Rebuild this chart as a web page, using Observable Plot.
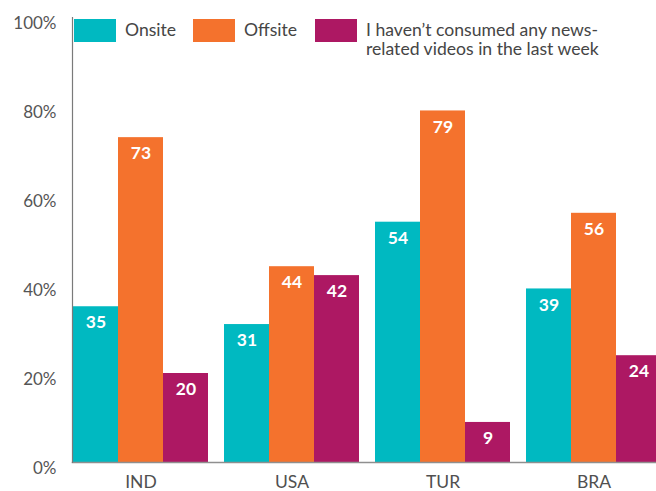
<!DOCTYPE html>
<html>
<head>
<meta charset="utf-8">
<script src="https://cdn.jsdelivr.net/npm/d3@7"></script>
<script src="https://cdn.jsdelivr.net/npm/@observablehq/plot@0.6"></script>
<style>
  html, body { margin: 0; padding: 0; background: #fff; overflow: hidden; }
  #wrap { position: relative; width: 656px; height: 491px; font-family: Lato, "Open Sans", sans-serif; }
  .leg { position: absolute; top: 19px; display: flex; align-items: flex-start; color: #454545; font-size: 17.6px; line-height: 19px; }
  .leg .sw { width: 42px; height: 23px; flex: none; }
  .leg .lb { margin-left: 9px; margin-top: 1px; white-space: nowrap; }
</style>
</head>
<body>
<div id="wrap"></div>
<script>
const countries = ["IND", "USA", "TUR", "BRA"];
const seriesKeys = ["Onsite", "Offsite", "None"];
const seriesLabels = ["Onsite", "Offsite", "I haven\u2019t consumed any news-<br>related videos in the last week"];
const seriesColors = ["#00B9C1", "#F4722D", "#AD1863"];
const onsite = [35, 31, 54, 39];
const offsite = [73, 44, 79, 56];
const none = [20, 42, 9, 24];
const yTicks = [0, 20, 40, 60, 80, 100];

const valuesBySeries = [onsite, offsite, none];
const data = [];
countries.forEach((c, i) => {
  seriesKeys.forEach((s, j) => data.push({country: c, series: s, value: valuesBySeries[j][i]}));
});

const chart = Plot.plot({
  width: 656,
  height: 491,
  marginLeft: 65,
  marginRight: -13,
  marginTop: 17,
  marginBottom: 29,
  style: {fontFamily: "Lato, 'Open Sans', sans-serif", color: "#555", background: "transparent"},
  fx: {domain: countries, paddingInner: 14 / 151, paddingOuter: 7 / 151, label: null},
  x: {domain: seriesKeys, paddingInner: 0, paddingOuter: 0, axis: null},
  y: {domain: [0, 100]},
  color: {domain: seriesKeys, range: seriesColors},
  marks: [
    Plot.barY(data, {fx: "country", x: "series", y: "value", fill: "series"}),
    Plot.text(data, {fx: "country", x: "series", y: "value", text: d => String(d.value), fill: "white", fontWeight: "bold", fontSize: 17.5, dy: 16}),
    Plot.frame({anchor: "bottom", facet: "super", stroke: "#8f8f8f", strokeWidth: 1.5}),
    Plot.frame({anchor: "left", facet: "super", stroke: "#7a7a7a", strokeWidth: 1.2}),
    Plot.axisY({ticks: yTicks, tickFormat: d => d + "%", tickSize: 0, tickPadding: 16, dy: 6, fontSize: 17, fontWeight: "normal", label: null, style: {letterSpacing: "0.8px"}}),
    Plot.axisFx({anchor: "bottom", tickSize: 0, tickPadding: 13, fontSize: 17.5, fontWeight: "normal", label: null, fill: "#505050"})
  ]
});

const wrap = document.getElementById("wrap");
wrap.appendChild(chart);

const legendLefts = [74, 193, 315];
seriesKeys.forEach((s, j) => {
  const item = document.createElement("div");
  item.className = "leg";
  item.style.left = legendLefts[j] + "px";
  item.innerHTML = `<div class="sw" style="background:${seriesColors[j]}"></div><div class="lb">${seriesLabels[j]}</div>`;
  wrap.appendChild(item);
});
</script>
</body>
</html>
